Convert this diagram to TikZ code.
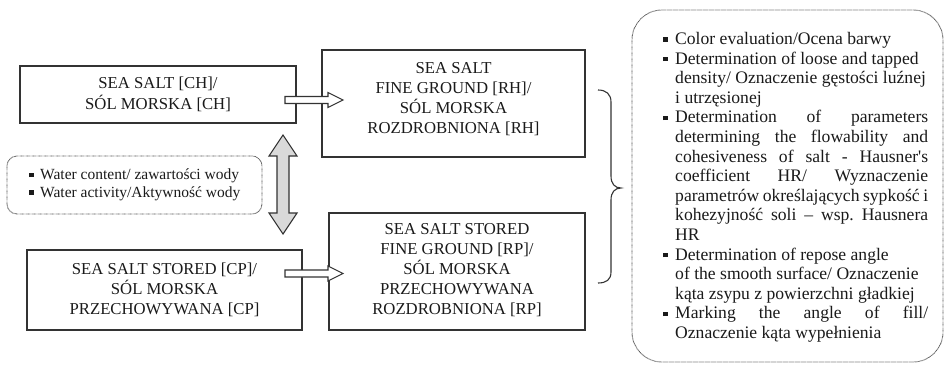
\documentclass[tikz,border=0pt]{standalone}
\usepackage{fontspec}
\setmainfont{Liberation Serif}[Ligatures=TeXOff]
\usetikzlibrary{calc}
\definecolor{ink}{HTML}{1A1A1A}
\definecolor{edge}{HTML}{333333}
\definecolor{dotc}{HTML}{4A4A4A}
\definecolor{arrfill}{HTML}{D9D9D9}
\newcommand\sqbul{\raisebox{2.8pt}{\rule{4.5pt}{4.5pt}}}
\newcommand\lbul{\llap{\sqbul\hspace{7.5pt}}}
\newcommand\sbul{\llap{\sqbul\hspace{6.5pt}}}
\newcommand\Jline[1]{\hbox to 253pt{#1}}
\newcommand\openarr[2]{%
  \draw[openarrow] ($(#1)+(0,-3.5)$) -- ($(#2)+(-15,-3.5)$) -- ($(#2)+(-15,-7.5)$)
    -- (#2) -- ($(#2)+(-15,7.5)$) -- ($(#2)+(-15,3.5)$) -- ($(#1)+(0,3.5)$) -- cycle;}
\tikzset{
  box/.style={draw=edge, line width=1.2pt, fill=white},
  boxtext/.style={align=center, text=ink, inner sep=0pt,
    font=\fontsize{16.7}{19.8}\selectfont},
  dotbox/.style={draw=dotc, line width=0.9pt, dash pattern=on 0.6pt off 0.6pt},
  openarrow/.style={draw=edge, line width=1.1pt, fill=white, line join=miter},
  grayarrow/.style={draw=edge, line width=1.1pt, fill=arrfill, line join=miter},
  bracestyle/.style={draw=edge, line width=1.1pt},
}
\begin{document}
\begin{tikzpicture}[x=1pt, y=-1pt]
\useasboundingbox (0,0) rectangle (947,364);
\fill[white] (0,0) rectangle (947,364);
% boxes
\node[box, minimum width=276pt, minimum height=57pt] (ch) at (158,94.5) {};
\node[boxtext] (cht) at (ch) {SEA SALT [CH]/\\[1.5pt] SÓL MORSKA [CH]};
\node[box, minimum width=263pt, minimum height=107pt] (rh) at (453.5,103.5) {};
\node[boxtext] (rht) at ($(rh)+(0,-4.5)$)
  {SEA SALT\\ FINE GROUND [RH]/\\ SÓL MORSKA\\ ROZDROBNIONA [RH]};
\node[box, minimum width=275pt, minimum height=80pt] (cp) at (164.5,290) {};
\node[boxtext] (cpt) at (cp)
  {SEA SALT STORED [CP]/\\ SÓL MORSKA\\ PRZECHOWYWANA [CP]};
\node[box, minimum width=256pt, minimum height=117pt] (rp) at (457,271.5) {};
\node[boxtext] (rpt) at ($(rp)+(0,-1.5)$)
  {SEA SALT STORED\\ FINE GROUND [RP]/\\ SÓL MORSKA\\ PRZECHOWYWANA\\ ROZDROBNIONA [RP]};
% water box
\draw[dotbox, rounded corners=10pt] (7,156) rectangle (262,214);
\node[anchor=west, align=left, text=ink, inner sep=0pt,
  font=\fontsize{15.5}{17.5}\selectfont] (water) at (40,185)
  {\sbul Water content/ zawartości wody\\ \sbul Water activity/Aktywność wody};
% big dotted box
\draw[dotbox, rounded corners=30pt] (632,10) rectangle (943,362);
\node[anchor=north west, align=left, text=ink, inner sep=0pt,
  font=\fontsize{17.6}{19.6}\selectfont] (list) at (675,32) {%
\lbul Color evaluation/Ocena barwy\\
\lbul Determination of loose and tapped\\
density/ Oznaczenie gęstości luźnej\\
i utrzęsionej\\
\lbul\Jline{Determination\hfill of\hfill parameters}\\
\Jline{determining\hfill the\hfill flowability\hfill and}\\
\Jline{cohesiveness\hfill of\hfill salt\hfill -\hfill Hausner's}\\
\Jline{coefficient\hfill HR/\hfill Wyznaczenie}\\
\Jline{parametrów\hfill określających\hfill sypkość\hfill i}\\
\Jline{kohezyjność\hfill soli\hfill –\hfill wsp.\hfill Hausnera}\\
HR\\
\lbul Determination of repose angle\\
of the smooth surface/ Oznaczenie\\
kąta zsypu z powierzchni gładkiej\\
\lbul\Jline{Marking\hfill the\hfill angle\hfill of\hfill fill/}\\
Oznaczenie kąta wypełnienia};
% brace
\draw[bracestyle] (598,90) .. controls (606,90) and (611,94) .. (611,102)
  -- (611,176) .. controls (611,184) and (615,188) .. (621,188)
  .. controls (615,188) and (611,192) .. (611,200)
  -- (611,272) .. controls (611,280) and (606,283) .. (598,283);
% open arrows
\coordinate (a1s) at (285,100);
\coordinate (a1e) at (343,100);
\coordinate (a2s) at (285,273.5);
\coordinate (a2e) at (343,273.5);
\openarr{a1s}{a1e}
\openarr{a2s}{a2e}
% gray double arrow
\draw[grayarrow] (283,135) -- (297,156) -- (289,156) -- (289,213) -- (297,213)
  -- (283,234) -- (269,213) -- (277,213) -- (277,156) -- (269,156) -- cycle;
\end{tikzpicture}
\end{document}
